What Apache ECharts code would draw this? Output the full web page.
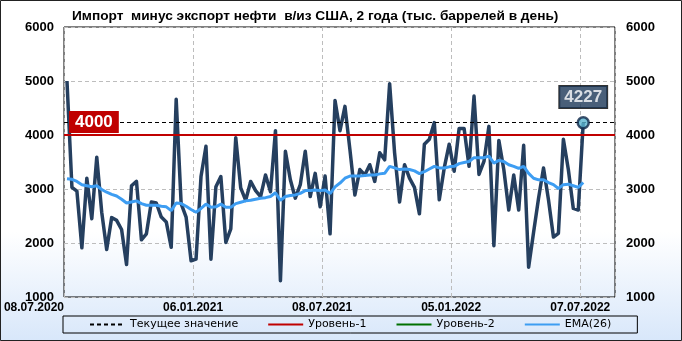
<!DOCTYPE html>
<html>
<head>
<meta charset="utf-8">
<script src="https://cdn.jsdelivr.net/npm/echarts@6/dist/echarts.min.js"></script>
<style>
html,body{margin:0;padding:0;}
#chart{width:682px;height:341px;background:linear-gradient(to bottom,#ffffff 0%,#ffffff 68%,#d8e7fa 100%);}
</style>
</head>
<body>
<div id="chart"></div>
<script>
// ---- data ----
const titleText = 'Импорт  минус экспорт нефти  в/из США, 2 года (тыс. баррелей в день)';
const tickLabels = ['08.07.2020', '06.01.2021', '08.07.2021', '05.01.2022', '07.07.2022'];
const tickWeeks = [0, 26, 52, 78, 104];
const netImports = [
  5000, 3030, 2960, 1910, 3200, 2450, 3590, 2570, 1880, 2470,
  2420, 2250, 1600, 3060, 3140, 2060, 2170, 2760, 2740, 2480,
  2390, 1920, 4660, 2730, 2480, 1670, 1700, 3230, 3790, 1700,
  3040, 3230, 2010, 2260, 3950, 3020, 2790, 3140, 2970, 2860,
  3260, 2950, 4080, 1300, 3700, 3170, 2830, 3080, 3700, 2860,
  3290, 2670, 3240, 2170, 4640, 4080, 4530, 3730, 2890, 3360,
  3260, 3450, 3140, 3670, 3540, 4950, 3670, 2760, 3450, 3200,
  3030, 2540, 3830, 3920, 4230, 2800, 3390, 3830, 3330, 4120,
  4120, 3420, 4720, 3270, 3510, 4160, 1950, 3900, 3360, 2610,
  3260, 2610, 3810, 1550, 2200, 2830, 3390, 2800, 2110, 2180,
  3920, 3360, 2640, 2610, 4227
];
const ema26 = [
  3190, 3180, 3140, 3080, 3060, 3040, 3060, 2990, 2940, 2900,
  2870, 2810, 2740, 2760, 2780, 2730, 2700, 2700, 2700, 2680,
  2670, 2600, 2740, 2730, 2680, 2620, 2570, 2640, 2720, 2660,
  2670, 2720, 2660, 2660, 2730, 2755, 2780, 2790, 2810, 2830,
  2840, 2860, 2930, 2790, 2860, 2880, 2890, 2920, 2970, 2970,
  2980, 2970, 2980, 2915, 3040, 3110, 3200, 3240, 3240, 3240,
  3250, 3260, 3260, 3280, 3290, 3420, 3390, 3360, 3370, 3360,
  3335, 3285, 3320, 3370, 3420, 3390, 3390, 3410, 3420, 3470,
  3490, 3510, 3580, 3580, 3580, 3610, 3480, 3530, 3510, 3450,
  3420, 3380, 3420, 3290, 3200, 3170, 3170, 3120, 3080, 3010,
  3080, 3090, 3060, 3030, 3120
];
const level1 = 4000;
const weekOffset = 0.6;
const xMax = 111;

// ---- build ----
const pts = netImports.map((v, i) => [i + weekOffset, v]);
const emaPts = ema26.map((v, i) => [i + weekOffset, v]);
const lastPt = pts[pts.length - 1];
const current = lastPt[1];

const chart = echarts.init(document.getElementById('chart'));
const FONT = 'Liberation Sans';
const gridDash = { color: '#bdbdbd', type: [4, 3], width: 1 };

chart.setOption({
  animation: false,
  textStyle: { fontFamily: FONT },
  title: {
    text: titleText, left: 67, top: 4,
    textStyle: { fontFamily: FONT, fontSize: 13.7, fontWeight: 'bold', color: '#000' }
  },
  grid: { left: 64, right: 67, top: 27, bottom: 44, show: true, borderColor: '#000', borderWidth: 1, backgroundColor: 'transparent' },
  legend: {
    left: 63, top: 316,
    padding: [3, 26, 3, 26],
    itemGap: 29, itemWidth: 35, itemHeight: 10,
    borderColor: '#000', borderWidth: 1,
    itemStyle: { opacity: 0 },
    textStyle: { fontFamily: 'DejaVu Sans', fontSize: 11, color: '#000' },
    data: ['Текущее значение', 'Уровень-1', 'Уровень-2', 'EMA(26)']
  },
  xAxis: {
    type: 'value', min: 0, max: xMax, interval: 26,
    axisLine: { show: false }, axisTick: { show: false },
    splitLine: { show: true, lineStyle: gridDash },
    axisLabel: {
      margin: 5, fontSize: 12, fontWeight: 'bold', color: '#000', fontFamily: FONT,
      alignMinLabel: 'right',
      formatter: v => { const k = tickWeeks.indexOf(v); return k >= 0 ? tickLabels[k] : ''; }
    }
  },
  yAxis: [
    { type: 'value', min: 1000, max: 6000, interval: 1000, position: 'left',
      axisLine: { show: false }, axisTick: { show: false },
      splitLine: { show: true, lineStyle: gridDash },
      axisLabel: { margin: 10, fontSize: 13, fontWeight: 'bold', color: '#000', fontFamily: FONT, formatter: v => String(v) } },
    { type: 'value', min: 1000, max: 6000, interval: 1000, position: 'right',
      axisLine: { show: false }, axisTick: { show: false }, splitLine: { show: false },
      axisLabel: { margin: 11, fontSize: 13, fontWeight: 'bold', color: '#000', fontFamily: FONT, formatter: v => String(v) } }
  ],
  series: [
    { name: 'Текущее значение', type: 'line', data: [], symbol: 'none',
      lineStyle: { color: '#000', width: 1, type: [4, 3] }, itemStyle: { color: '#000' },
      markLine: { silent: true, symbol: 'none', label: { show: false },
        lineStyle: { color: '#000', width: 1, type: [4, 3] }, data: [{ yAxis: current }] } },
    { name: 'Уровень-1', type: 'line', data: [], symbol: 'none',
      lineStyle: { color: '#c00000', width: 2 }, itemStyle: { color: '#c00000' },
      markLine: { silent: true, symbol: 'none',
        lineStyle: { color: '#c00000', width: 2, type: 'solid' },
        label: { show: true, position: 'insideStartTop', distance: [5, 2], formatter: '{c}',
          backgroundColor: '#c00000', color: '#fff', fontSize: 17, fontWeight: 'bold', fontFamily: FONT,
          padding: [3, 6, 2, 6] },
        data: [{ yAxis: level1 }] } },
    { name: 'Уровень-2', type: 'line', data: [], symbol: 'none',
      lineStyle: { color: '#007000', width: 2 }, itemStyle: { color: '#007000' } },
    { name: 'EMA(26)', type: 'line', data: emaPts, symbol: 'none', z: 3,
      lineStyle: { color: '#3d9df2', width: 3 }, itemStyle: { color: '#3d9df2' } },
    { name: 'main', type: 'line', data: pts, symbol: 'none', z: 2,
      lineStyle: { color: '#253f5f', width: 3.5, join: 'round' }, itemStyle: { color: '#253f5f' } },
    { name: 'last', type: 'scatter', data: [lastPt], z: 5, symbol: 'circle', symbolSize: 11,
      itemStyle: { color: '#5ab4cf', borderColor: '#0f2748', borderWidth: 2.5 },
      label: { show: true, position: 'top', distance: 8, formatter: p => String(p.value[1]),
        backgroundColor: '#1c3758', borderColor: '#000', borderWidth: 1,
        color: '#fff', fontSize: 17, fontWeight: 'bold', fontFamily: FONT, padding: [3, 5, 2, 5] } }
  ],
  graphic: [
    { type: 'rect', shape: { x: 0.5, y: 0.5, width: 681, height: 340 }, style: { fill: 'none', stroke: '#222', lineWidth: 1 }, silent: true }
  ]
});
</script>
</body>
</html>
